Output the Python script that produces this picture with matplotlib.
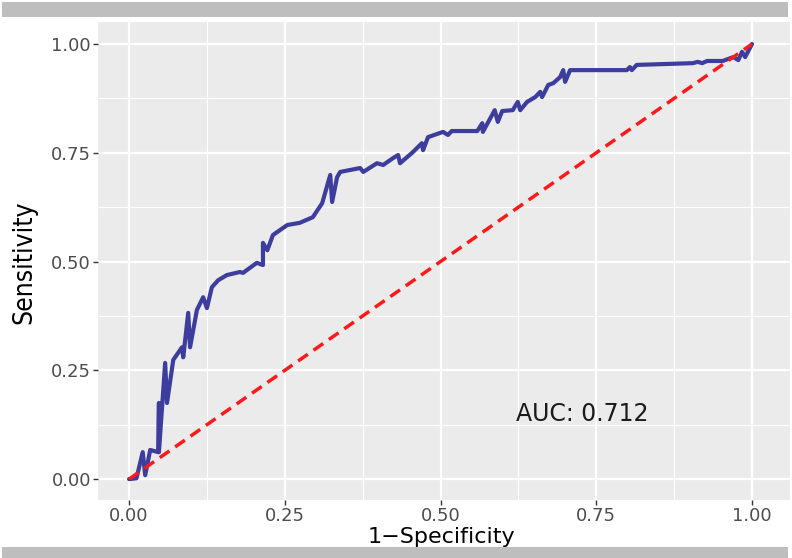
import matplotlib
matplotlib.use("Agg")
import matplotlib.pyplot as plt
from matplotlib.patches import Rectangle
from matplotlib.ticker import MultipleLocator

# ROC curve points (1-specificity, sensitivity)
fpr = [0.000, 0.012, 0.022, 0.026, 0.034, 0.047, 0.048, 0.048, 0.058, 0.061,
       0.071, 0.085, 0.087, 0.095, 0.098, 0.109, 0.119, 0.125, 0.133, 0.143,
       0.157, 0.178, 0.183, 0.205, 0.215, 0.215, 0.222, 0.231, 0.254, 0.274,
       0.295, 0.310, 0.323, 0.326, 0.334, 0.339, 0.371, 0.376, 0.398, 0.408,
       0.424, 0.432, 0.435, 0.456, 0.470, 0.472, 0.480, 0.504, 0.512, 0.518,
       0.559, 0.567, 0.568, 0.587, 0.592, 0.599, 0.616, 0.624, 0.628, 0.639,
       0.652, 0.660, 0.663, 0.673, 0.681, 0.692, 0.697, 0.700, 0.708, 0.799,
       0.804, 0.807, 0.815, 0.905, 0.913, 0.920, 0.928, 0.953, 0.970, 0.978,
       0.984, 0.989, 1.000]
tpr = [0.000, 0.002, 0.062, 0.009, 0.067, 0.062, 0.175, 0.062, 0.267, 0.175,
       0.274, 0.303, 0.280, 0.382, 0.303, 0.389, 0.418, 0.393, 0.441, 0.457,
       0.469, 0.476, 0.474, 0.497, 0.492, 0.543, 0.526, 0.561, 0.584, 0.589,
       0.602, 0.634, 0.699, 0.637, 0.694, 0.706, 0.715, 0.706, 0.726, 0.722,
       0.738, 0.745, 0.726, 0.752, 0.772, 0.756, 0.786, 0.798, 0.791, 0.800,
       0.800, 0.818, 0.798, 0.848, 0.821, 0.846, 0.848, 0.867, 0.848, 0.867,
       0.878, 0.890, 0.878, 0.906, 0.910, 0.924, 0.940, 0.913, 0.940, 0.940,
       0.947, 0.940, 0.952, 0.956, 0.959, 0.956, 0.961, 0.961, 0.970, 0.963,
       0.982, 0.970, 1.000]
diag_x = [0.0, 1.0]
diag_y = [0.0, 1.0]
tick_values = [0.00, 0.25, 0.50, 0.75, 1.00]
tick_labels = ["0.00", "0.25", "0.50", "0.75", "1.00"]
auc_label = "AUC: 0.712"
xlabel = "1\u2212Specificity"
ylabel = "Sensitivity"

W, H = 792, 558
fig = plt.figure(figsize=(W / 100, H / 100), dpi=100)
fig.patch.set_facecolor("white")

# panel in pixel coords
pl, pr, pt, pb = 98, 790, 22, 500
ax = fig.add_axes([pl / W, 1 - pb / H, (pr - pl) / W, (pb - pt) / H])
ax.set_facecolor("#EBEBEB")
for s in ax.spines.values():
    s.set_visible(False)

ax.set_xlim(-0.0498, 1.061)
ax.set_ylim(-0.048, 1.0506)

ax.set_xticks(tick_values)
ax.set_xticklabels(tick_labels)
ax.set_yticks(tick_values)
ax.set_yticklabels(tick_labels)
ax.xaxis.set_minor_locator(MultipleLocator(0.125))
ax.yaxis.set_minor_locator(MultipleLocator(0.125))
ax.grid(which="major", color="white", linewidth=1.6)
ax.grid(which="minor", color="white", linewidth=0.8)
ax.set_axisbelow(True)
ax.tick_params(which="major", length=3.5, width=1.0, color="#333333",
               labelcolor="#4D4D4D", labelsize=13, pad=1.5)
ax.tick_params(which="minor", length=0)
for lab in ax.get_xticklabels() + ax.get_yticklabels():
    lab.set_family("DejaVu Sans")

ax.plot(fpr, tpr, color="#3D3D9E", linewidth=3.0, solid_joinstyle="round",
        solid_capstyle="round", zorder=3)
ax.plot(diag_x, diag_y, color="#FF1A1A", linewidth=2.5, linestyle=(0, (3.4, 2.0)),
        zorder=4)

ax.text(0.621, 0.149, auc_label, ha="left", va="center", fontsize=17,
        color="#1A1A1A", family="DejaVu Sans")

ax.set_xlabel(xlabel, fontsize=16, color="black", family="DejaVu Sans")
ax.xaxis.set_label_coords((441 - pl) / (pr - pl), (pb - 537) / (pb - pt))
ax.xaxis.label.set_va("center")
ax.set_ylabel(ylabel, fontsize=19, color="black",
              family=["Liberation Sans Narrow", "DejaVu Sans"],
              fontstretch="condensed")
ax.yaxis.set_label_coords((24 - pl) / (pr - pl), (pb - 262) / (pb - pt))
ax.yaxis.label.set_va("center")

# gray frame bars at top and bottom
fig.add_artist(Rectangle((2 / W, 1 - 17 / H), 786 / W, 15 / H,
                         transform=fig.transFigure, facecolor="#BEBEBE",
                         edgecolor="none"))
fig.add_artist(Rectangle((2 / W, 0), 786 / W, 11 / H,
                         transform=fig.transFigure, facecolor="#BEBEBE",
                         edgecolor="none"))

fig.savefig("out.png", dpi=100)
